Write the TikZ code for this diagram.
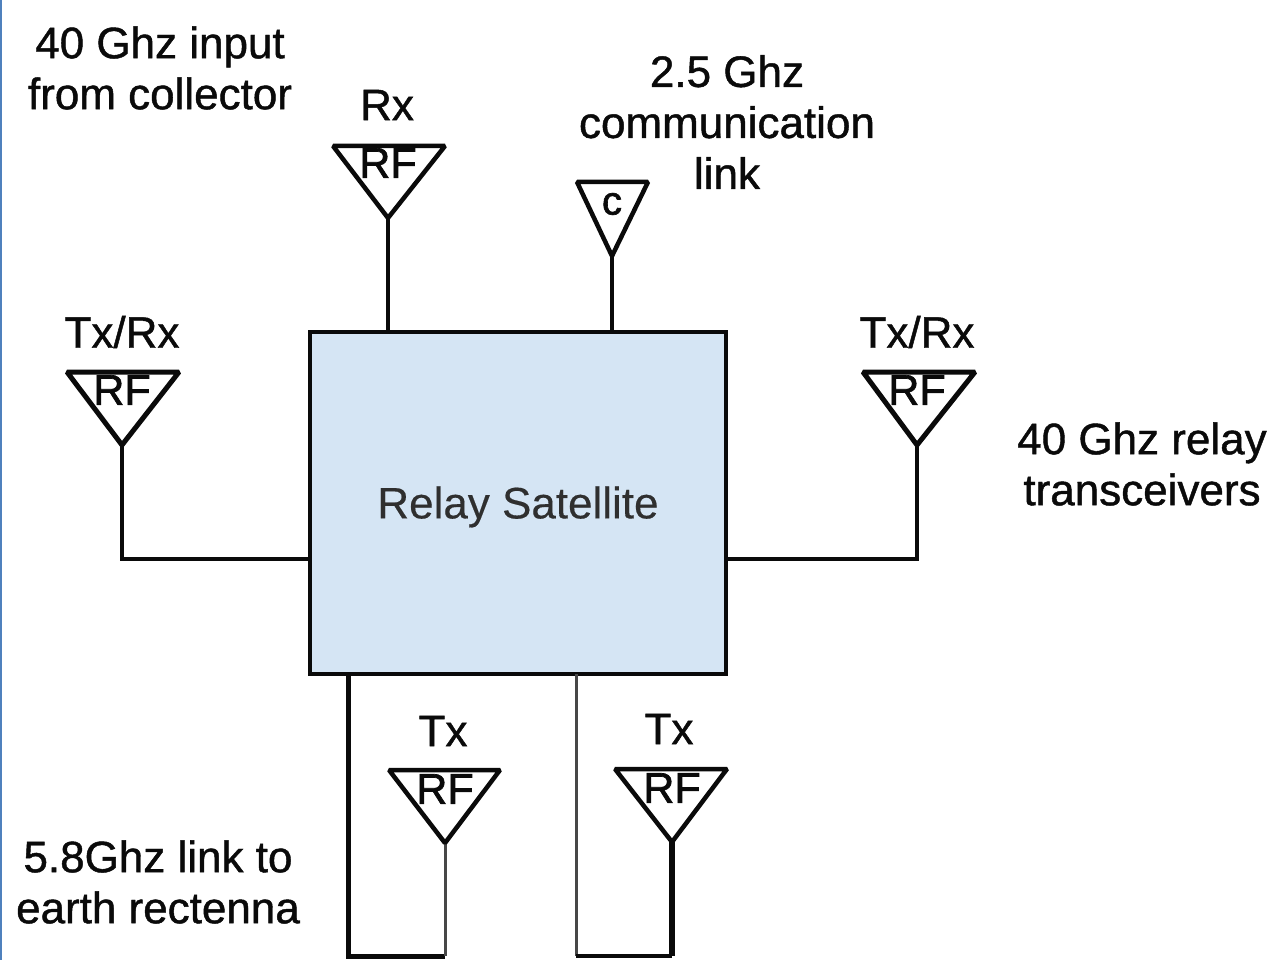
\documentclass[tikz,border=0pt]{standalone}
\usepackage{fontspec}
\setmainfont{Liberation Sans}[FakeBold=1.0]
\newfontfamily\plainfont{Liberation Sans}[FakeBold=0.35]
\newfontfamily\rffont{Liberation Sans}[FakeBold=1.6]
\definecolor{boxfill}{HTML}{D5E5F4}
\definecolor{edgeblue}{HTML}{4F81BD}
\definecolor{ink}{HTML}{0A0A0A}
\tikzset{
  wire/.style={draw=ink,line width=4.5pt,line join=miter},
  thinwire/.style={draw=ink!75,line width=3pt},
  heavywire/.style={draw=ink,line width=6.5pt},
  horn/.style={draw=ink,line width=4.5pt,line join=bevel,fill=white},
  lbl/.style={font=\fontsize{44}{51}\selectfont,text=ink,inner sep=0pt,align=center},
  rf/.style={font=\rffont\fontsize{43}{43}\selectfont,text=ink,inner sep=0pt},
}
\begin{document}
\begin{tikzpicture}[x=1pt,y=-1pt]
\useasboundingbox (0,0) rectangle (1288,960);
\fill[white] (0,0) rectangle (1288,960);
\fill[edgeblue] (0,0) rectangle (2,960);
\node[draw=ink,line width=4.5pt,fill=boxfill,minimum width=416pt,minimum height=342pt,inner sep=0pt,outer sep=0pt] (sat) at (518,503) {};
\node[inner sep=0pt,font=\plainfont\fontsize{44}{50}\selectfont,text=ink!85] (satlabel) at (518,507) {Relay Satellite};
% antenna tips
\coordinate (tl) at (122,445);
\coordinate (trx) at (388,218);
\coordinate (tc) at (612,256);
\coordinate (tr) at (917,445);
\coordinate (ta) at (445,843);
\coordinate (tb) at (672,842);
% connector corners
\coordinate (cl) at (122,559);
\coordinate (cr) at (917,559);
\coordinate (sl) at (310,559);
\coordinate (sr) at (726,559);
\coordinate (srx) at (388,332);
\coordinate (sc) at (612,332);
\coordinate (sa) at (348,674);
\coordinate (sb) at (576,674);
\coordinate (a1) at (348,956);
\coordinate (a2) at (445,956);
\coordinate (b1) at (576,956);
\coordinate (b2) at (672,956);
% connectors
\draw[wire] (tl) -- (cl) -- (sl);
\draw[wire] (tr) -- (cr) -- (sr);
\draw[wire] (trx) -- (srx);
\draw[wire] (tc) -- (sc);
\draw[wire,line width=5pt] (sa) -- (a1) -- (a2);
\draw[thinwire] (a2) -- (ta);
\draw[thinwire] (sb) -- (b1);
\draw[wire] (b1) -- (b2);
\draw[heavywire] (b2) -- (tb);
% antennas
\draw[horn,line width=5pt] (67,372) -- (179,372) -- (tl) -- cycle;
\draw[horn] (333,146) -- (445,146) -- (trx) -- cycle;
\draw[horn] (577,182) -- (648,182) -- (tc) -- cycle;
\draw[horn,line width=5pt] (863,372) -- (975,372) -- (tr) -- cycle;
\draw[horn] (389,770) -- (500,770) -- (ta) -- cycle;
\draw[horn] (615,769) -- (727,769) -- (tb) -- cycle;
% RF labels
\node[rf] (rf1) at (122,390) {RF};
\node[rf] (rf2) at (388,163) {RF};
\node[rf,font=\rffont\fontsize{40}{40}\selectfont] (cc) at (612,204) {c};
\node[rf] (rf3) at (917,390) {RF};
\node[rf] (rf4) at (445,789) {RF};
\node[rf] (rf5) at (672,788) {RF};
% captions
\node[lbl] (t1) at (160,68) {40 Ghz input\\from collector};
\node[lbl] (t2) at (387,105) {Rx};
\node[lbl] (t3) at (727,122) {2.5 Ghz\\communication\\link};
\node[lbl] (t4) at (122,332) {Tx/Rx};
\node[lbl] (t5) at (917,332) {Tx/Rx};
\node[lbl] (t6) at (1142,464) {40 Ghz relay\\transceivers};
\node[lbl] (t7) at (443,731) {Tx};
\node[lbl] (t8) at (669,729) {Tx};
\node[lbl] (t9) at (158,882) {5.8Ghz link to\\earth rectenna};
\end{tikzpicture}
\end{document}
